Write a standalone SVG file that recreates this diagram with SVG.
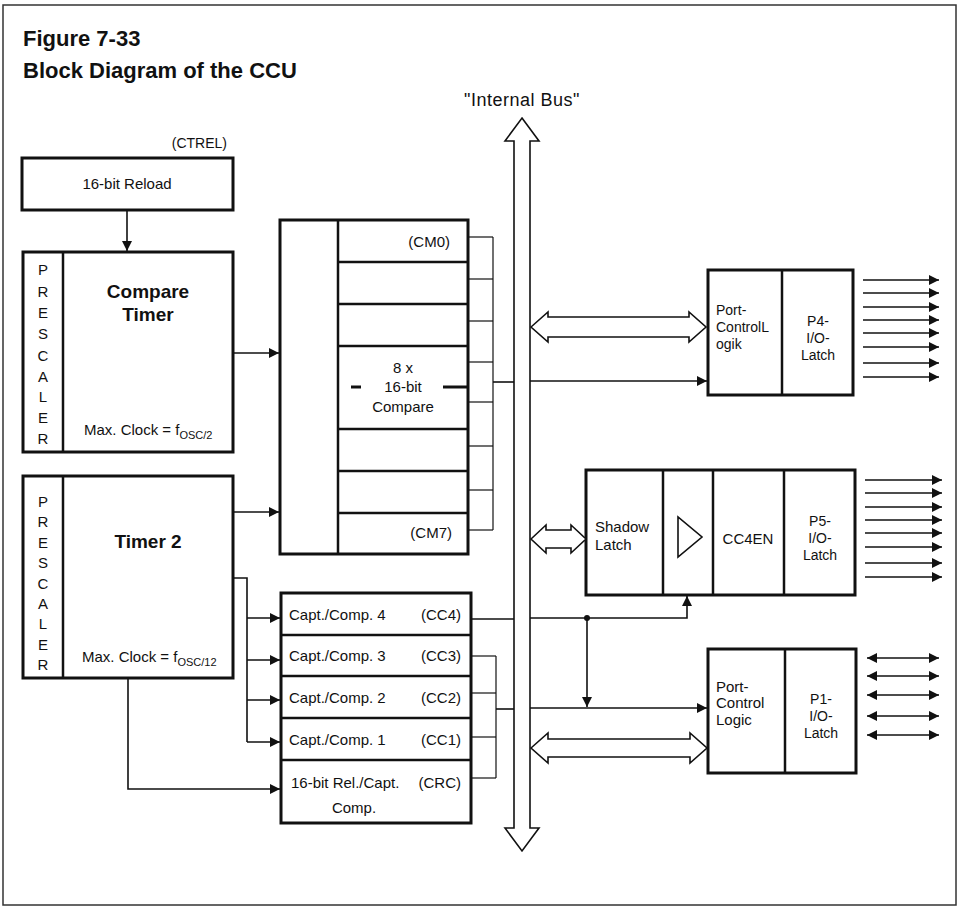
<svg xmlns="http://www.w3.org/2000/svg" width="960" height="914" viewBox="0 0 960 914">
<defs>
<marker id="ah" markerUnits="userSpaceOnUse" markerWidth="10" markerHeight="10" refX="10" refY="5" orient="auto-start-reverse" viewBox="0 0 10 10">
<path d="M0,0 L10,5 L0,10 z" fill="#111"/>
</marker>
<style>
text{font-family:"Liberation Sans",Arial,sans-serif;fill:#111;font-size:15px}
.title{font-size:22px;font-weight:bold}
.big{font-size:19px;font-weight:bold}
.sm{font-size:14px}
.box{fill:#fff;stroke:#111;stroke-width:3}
.div{fill:none;stroke:#111;stroke-width:2.5}
.thin{fill:none;stroke:#111;stroke-width:1.2}
.ln{fill:none;stroke:#111;stroke-width:1.6}
.arr{fill:none;stroke:#111;stroke-width:1.6;marker-end:url(#ah)}
.bi{fill:none;stroke:#111;stroke-width:1.6;marker-end:url(#ah);marker-start:url(#ah)}
.hollow{fill:#fff;stroke:#111;stroke-width:1.6;stroke-linejoin:miter}
.c{text-anchor:middle}
.r{text-anchor:end}
</style>
</defs>
<rect x="0" y="0" width="960" height="914" fill="#fff"/>
<rect x="3" y="5" width="953" height="900" fill="none" stroke="#333" stroke-width="1.5"/>
<text class="title" x="23" y="46">Figure 7-33</text>
<text class="title" x="23" y="78">Block Diagram of the CCU</text>

<g id="bus">
<polygon class="hollow" points="522,118 539,141 530,141 530,828 539,828 522,851 505,828 514,828 514,141 505,141"/>
<text x="522" y="106" class="c" style="font-size:18px;letter-spacing:0.5px">"Internal Bus"</text>
</g>

<g id="reload">
<text x="227" y="148" class="r" style="font-size:14px">(CTREL)</text>
<rect class="box" x="22" y="158" width="211" height="52"/>
<text x="127" y="189" class="c">16-bit Reload</text>
</g>

<g id="compare-timer">
<rect class="box" x="23" y="252" width="210" height="200"/>
<line class="div" x1="63" y1="252" x2="63" y2="452"/>
<text x="43" y="275" class="c">P</text><text x="43" y="297" class="c">R</text><text x="43" y="318" class="c">E</text><text x="43" y="339" class="c">S</text><text x="43" y="361" class="c">C</text><text x="43" y="382" class="c">A</text><text x="43" y="402" class="c">L</text><text x="43" y="423" class="c">E</text><text x="43" y="444" class="c">R</text>
<text x="148" y="298" class="big c">Compare</text>
<text x="148" y="321" class="big c">Timer</text>
<text x="84" y="435">Max. Clock = f<tspan style="font-size:11px" dy="4">OSC/2</tspan></text>
</g>

<g id="timer2">
<rect class="box" x="23" y="476" width="210" height="202"/>
<line class="div" x1="63" y1="476" x2="63" y2="678"/>
<text x="43" y="507" class="c">P</text><text x="43" y="527" class="c">R</text><text x="43" y="548" class="c">E</text><text x="43" y="568" class="c">S</text><text x="43" y="589" class="c">C</text><text x="43" y="609" class="c">A</text><text x="43" y="629" class="c">L</text><text x="43" y="650" class="c">E</text><text x="43" y="670" class="c">R</text>
<text x="148" y="548" class="big c">Timer 2</text>
<text x="82" y="662">Max. Clock = f<tspan style="font-size:11px" dy="4">OSC/12</tspan></text>
</g>

<g id="compare">
<rect class="box" x="280" y="220" width="188" height="334"/>
<line class="div" x1="338" y1="220" x2="338" y2="554"/>
<line class="div" x1="338" y1="262" x2="468" y2="262"/>
<line class="div" x1="338" y1="304" x2="468" y2="304"/>
<line class="div" x1="338" y1="346" x2="468" y2="346"/>
<line class="div" x1="338" y1="429" x2="468" y2="429"/>
<line class="div" x1="338" y1="471" x2="468" y2="471"/>
<line class="div" x1="338" y1="513" x2="468" y2="513"/>
<line stroke="#111" stroke-width="3" x1="351" y1="387" x2="361" y2="387"/>
<line stroke="#111" stroke-width="3" x1="443" y1="387" x2="467" y2="387"/>
<text x="450" y="247" class="r">(CM0)</text>
<text x="403" y="373" class="c">8 x</text>
<text x="403" y="392" class="c">16-bit</text>
<text x="403" y="412" class="c">Compare</text>
<text x="452" y="538" class="r">(CM7)</text>
</g>

<g id="capture">
<rect class="box" x="281" y="593" width="190" height="230"/>
<line class="div" x1="281" y1="635" x2="471" y2="635"/>
<line class="div" x1="281" y1="676" x2="471" y2="676"/>
<line class="div" x1="281" y1="718" x2="471" y2="718"/>
<line class="div" x1="281" y1="760" x2="471" y2="760"/>
<text x="289" y="620">Capt./Comp. 4</text><text x="461" y="620" class="r">(CC4)</text>
<text x="289" y="661">Capt./Comp. 3</text><text x="461" y="661" class="r">(CC3)</text>
<text x="289" y="703">Capt./Comp. 2</text><text x="461" y="703" class="r">(CC2)</text>
<text x="289" y="745">Capt./Comp. 1</text><text x="461" y="745" class="r">(CC1)</text>
<text x="291" y="788">16-bit Rel./Capt.</text><text x="461" y="788" class="r">(CRC)</text>
<text x="354" y="813" class="c">Comp.</text>
</g>

<g id="p4">
<rect class="box" x="708" y="270" width="145" height="125"/>
<line class="div" x1="782" y1="270" x2="782" y2="395"/>
<text x="716" y="315" class="sm">Port-</text>
<text x="716" y="332" class="sm">ControlL</text>
<text x="716" y="349" class="sm">ogik</text>
<text x="818" y="326" class="sm c">P4-</text>
<text x="818" y="343" class="sm c">I/O-</text>
<text x="818" y="360" class="sm c">Latch</text>
</g>

<g id="p5">
<rect class="box" x="586" y="470" width="269" height="125"/>
<line class="div" x1="663" y1="470" x2="663" y2="595"/>
<line class="div" x1="713" y1="470" x2="713" y2="595"/>
<line class="div" x1="784" y1="470" x2="784" y2="595"/>
<text x="595" y="532">Shadow</text>
<text x="595" y="550">Latch</text>
<polygon points="678,517 678,557 702,537" fill="none" stroke="#111" stroke-width="1.6"/>
<text x="748" y="544" class="c">CC4EN</text>
<text x="820" y="526" class="sm c">P5-</text>
<text x="820" y="543" class="sm c">I/O-</text>
<text x="820" y="560" class="sm c">Latch</text>
</g>

<g id="p1">
<rect class="box" x="708" y="649" width="148" height="124"/>
<line class="div" x1="785" y1="649" x2="785" y2="773"/>
<text x="716" y="692">Port-</text>
<text x="716" y="708">Control</text>
<text x="716" y="725">Logic</text>
<text x="821" y="704" class="sm c">P1-</text>
<text x="821" y="721" class="sm c">I/O-</text>
<text x="821" y="738" class="sm c">Latch</text>
</g>

<g id="connectors">
<line class="arr" x1="127" y1="210" x2="127" y2="251"/>
<line class="arr" x1="233" y1="353" x2="279" y2="353"/>
<line class="arr" x1="233" y1="512" x2="279" y2="512"/>
<polyline class="ln" points="233,578 247,578 247,742"/>
<line class="arr" x1="247" y1="618" x2="280" y2="618"/>
<line class="arr" x1="247" y1="660" x2="280" y2="660"/>
<line class="arr" x1="247" y1="700" x2="280" y2="700"/>
<line class="arr" x1="247" y1="742" x2="280" y2="742"/>
<polyline class="arr" points="128,678 128,789 280,789"/>
<g class="thin">
<line x1="468" y1="237" x2="493" y2="237"/>
<line x1="468" y1="279" x2="493" y2="279"/>
<line x1="468" y1="321" x2="493" y2="321"/>
<line x1="468" y1="362" x2="493" y2="362"/>
<line x1="468" y1="402" x2="493" y2="402"/>
<line x1="468" y1="446" x2="493" y2="446"/>
<line x1="468" y1="490" x2="493" y2="490"/>
<line x1="468" y1="530" x2="493" y2="530"/>
<line x1="493" y1="237" x2="493" y2="530"/>
</g>
<line class="ln" x1="493" y1="382" x2="514" y2="382"/>
<line class="arr" x1="530" y1="381" x2="707" y2="381"/>
<g class="thin">
<line x1="471" y1="656" x2="496" y2="656"/>
<line x1="471" y1="693" x2="496" y2="693"/>
<line x1="471" y1="737" x2="496" y2="737"/>
<line x1="471" y1="778" x2="496" y2="778"/>
<line x1="496" y1="656" x2="496" y2="778"/>
</g>
<line class="ln" x1="496" y1="709" x2="514" y2="709"/>
<line class="arr" x1="530" y1="708" x2="707" y2="708"/>
<line class="ln" x1="471" y1="619" x2="514" y2="619"/>
<polyline class="arr" points="530,618 687,618 687,596"/>
<circle cx="587" cy="618" r="3" fill="#111"/>
<line class="arr" x1="587" y1="618" x2="587" y2="707"/>
<polygon class="hollow" points="531,327 548,312 548,317 689,317 689,312 706,327 689,342 689,337 548,337 548,342"/>
<polygon class="hollow" points="531,539 546,525 546,530 571,530 571,525 586,539 571,553 571,548 546,548 546,553"/>
<polygon class="hollow" points="531,748 548,733 548,739 690,739 690,733 707,748 690,763 690,757 548,757 548,763"/>
<g>
<line class="arr" x1="863" y1="280" x2="939" y2="280"/>
<line class="arr" x1="863" y1="293" x2="939" y2="293"/>
<line class="arr" x1="863" y1="307" x2="939" y2="307"/>
<line class="arr" x1="863" y1="320" x2="939" y2="320"/>
<line class="arr" x1="863" y1="333" x2="939" y2="333"/>
<line class="arr" x1="863" y1="347" x2="939" y2="347"/>
<line class="arr" x1="863" y1="363" x2="939" y2="363"/>
<line class="arr" x1="863" y1="377" x2="939" y2="377"/>
</g>
<g>
<line class="arr" x1="865" y1="480" x2="942" y2="480"/>
<line class="arr" x1="865" y1="493" x2="942" y2="493"/>
<line class="arr" x1="865" y1="507" x2="942" y2="507"/>
<line class="arr" x1="865" y1="520" x2="942" y2="520"/>
<line class="arr" x1="865" y1="533" x2="942" y2="533"/>
<line class="arr" x1="865" y1="547" x2="942" y2="547"/>
<line class="arr" x1="865" y1="563" x2="942" y2="563"/>
<line class="arr" x1="865" y1="577" x2="942" y2="577"/>
</g>
<g>
<line class="bi" x1="867" y1="658" x2="939" y2="658"/>
<line class="bi" x1="867" y1="676" x2="939" y2="676"/>
<line class="bi" x1="867" y1="695" x2="939" y2="695"/>
<line class="bi" x1="867" y1="716" x2="939" y2="716"/>
<line class="bi" x1="867" y1="735" x2="939" y2="735"/>
</g>
</g>
</svg>
